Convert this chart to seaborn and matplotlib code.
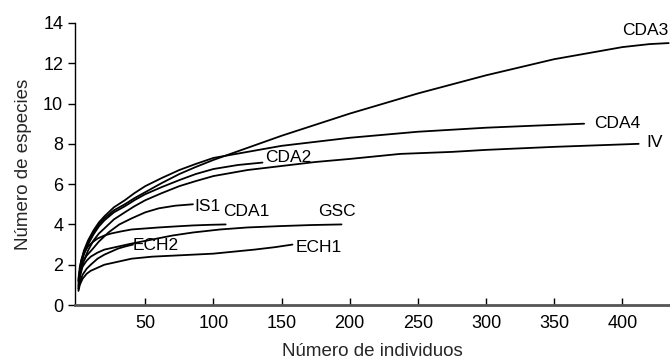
import pandas as pd
import numpy as np
import matplotlib
matplotlib.use("Agg")
import matplotlib.pyplot as plt
import seaborn as sns

# ------------------------------------------------------------
# DATA
# ------------------------------------------------------------

cda3_x = [1, 3, 5, 8, 12, 16, 20, 27, 35, 42, 50, 62, 75, 87, 100, 125, 150,
          175, 200, 225, 250, 275, 300, 325, 350, 375, 400, 420, 434]
cda3_y = [1.2, 2.1, 2.6, 3.1, 3.6, 4.0, 4.3, 4.7, 5.0, 5.3, 5.6, 6.05, 6.5, 6.85,
          7.2, 7.8, 8.4, 8.95, 9.5, 10.0, 10.5, 10.95, 11.4, 11.8, 12.2, 12.5,
          12.8, 12.95, 13.0]

cda4_x = [1, 3, 5, 8, 12, 16, 20, 27, 35, 42, 50, 62, 75, 87, 100, 125, 150,
          175, 200, 225, 250, 275, 300, 335, 372]
cda4_y = [1.2, 2.2, 2.7, 3.2, 3.7, 4.1, 4.4, 4.85, 5.2, 5.55, 5.9, 6.3, 6.7, 7.0,
          7.3, 7.6, 7.9, 8.1, 8.3, 8.45, 8.6, 8.7, 8.8, 8.9, 9.0]

iv_x = [1, 3, 5, 8, 12, 16, 20, 27, 35, 42, 50, 62, 75, 87, 100, 125, 150, 175,
        200, 237, 275, 300, 350, 412]
iv_y = [1.0, 1.8, 2.2, 2.7, 3.2, 3.55, 3.8, 4.25, 4.6, 4.9, 5.2, 5.55, 5.9, 6.15,
        6.4, 6.7, 6.9, 7.1, 7.25, 7.5, 7.6, 7.7, 7.85, 8.0]

cda2_x = [1, 3, 5, 8, 12, 16, 20, 27, 35, 42, 50, 62, 75, 87, 100, 118, 136]
cda2_y = [1.1, 2.0, 2.5, 3.0, 3.5, 3.9, 4.2, 4.6, 4.9, 5.2, 5.5, 5.85, 6.2, 6.5,
          6.75, 6.95, 7.07]

is1_x = [1, 2, 4, 7, 11, 16, 23, 31, 40, 50, 60, 72, 85]
is1_y = [0.8, 1.5, 2.1, 2.45, 2.75, 3.15, 3.6, 4.0, 4.3, 4.6, 4.8, 4.93, 5.0]

cda1_x = [1, 2, 3, 5, 8, 11, 15, 20, 25, 32, 40, 50, 60, 72, 85, 97, 109]
cda1_y = [1.3, 1.9, 2.2, 2.6, 2.9, 3.1, 3.3, 3.45, 3.55, 3.65, 3.75, 3.8, 3.85,
          3.9, 3.95, 3.98, 4.0]

gsc_x = [1, 2, 4, 7, 10, 15, 20, 30, 40, 55, 70, 85, 105, 125, 150, 172, 194]
gsc_y = [0.9, 1.4, 1.9, 2.2, 2.4, 2.6, 2.75, 2.9, 3.05, 3.25, 3.45, 3.6, 3.75,
         3.85, 3.92, 3.97, 4.0]

ech2_x = [1, 2, 4, 7, 10, 15, 20, 25, 30, 35, 41]
ech2_y = [0.8, 1.1, 1.5, 1.8, 2.0, 2.3, 2.5, 2.65, 2.8, 2.9, 3.0]

ech1_x = [1, 2, 4, 7, 10, 15, 20, 30, 40, 55, 70, 85, 100, 115, 130, 145, 158]
ech1_y = [0.7, 1.0, 1.3, 1.55, 1.7, 1.85, 2.0, 2.15, 2.3, 2.4, 2.45, 2.5, 2.55,
          2.65, 2.75, 2.87, 3.0]

curves = {
    'CDA3': (cda3_x, cda3_y),
    'CDA4': (cda4_x, cda4_y),
    'IV': (iv_x, iv_y),
    'CDA2': (cda2_x, cda2_y),
    'IS1': (is1_x, is1_y),
    'CDA1': (cda1_x, cda1_y),
    'GSC': (gsc_x, gsc_y),
    'ECH2': (ech2_x, ech2_y),
    'ECH1': (ech1_x, ech1_y),
}

# label anchor positions (left / centre of text)
label_pos = {
    'CDA3': (417, 13.6, 'center'),
    'CDA4': (379, 9.0, 'left'),
    'IV': (418, 8.05, 'left'),
    'CDA2': (138, 7.3, 'left'),
    'IS1': (86, 4.9, 'left'),
    'CDA1': (107, 4.65, 'left'),
    'GSC': (177, 4.65, 'left'),
    'ECH2': (40.5, 2.94, 'left'),
    'ECH1': (160.5, 2.87, 'left'),
}

x_ticks = [50, 100, 150, 200, 250, 300, 350, 400]
y_ticks = [0, 2, 4, 6, 8, 10, 12, 14]

rows = []
for name, (xs, ys) in curves.items():
    for xv, yv in zip(xs, ys):
        rows.append([name, xv, yv])
df = pd.DataFrame(rows, columns=['curve', 'x', 'y'])

# ------------------------------------------------------------
# PLOT
# ------------------------------------------------------------

sns.set_style('ticks')
plt.rcParams['font.family'] = ['Liberation Sans', 'DejaVu Sans']

fig = plt.figure(figsize=(6.7, 3.64), dpi=100)
ax = fig.add_axes([0.112, 0.162, 0.888, 0.775])

sns.lineplot(
    data=df,
    x='x',
    y='y',
    units='curve',
    estimator=None,
    sort=False,
    color='black',
    linewidth=1.3,
    ax=ax
)

for name, (tx, ty, ha) in label_pos.items():
    ax.text(tx, ty, name, ha=ha, va='center', fontsize=12.5, color='black')

ax.set_xlim(-1.5, 435)
ax.set_ylim(0, 14)
ax.set_xticks(x_ticks)
ax.set_yticks(y_ticks)

ax.set_xlabel("Número de individuos", fontsize=13.5, labelpad=8)
ax.set_ylabel("Número de especies", fontsize=13.5, labelpad=8)

sns.despine(ax=ax)
ax.spines['left'].set_color('black')
ax.spines['left'].set_linewidth(1.0)
ax.spines['bottom'].set_color('#555555')
ax.spines['bottom'].set_linewidth(2.0)

ax.tick_params(axis='y', direction='out', length=5, width=1, colors='black', labelsize=13)
ax.tick_params(axis='x', direction='in', length=5, width=1, colors='black', labelsize=13, pad=7)

plt.savefig("out.png", dpi=100)
plt.close()
